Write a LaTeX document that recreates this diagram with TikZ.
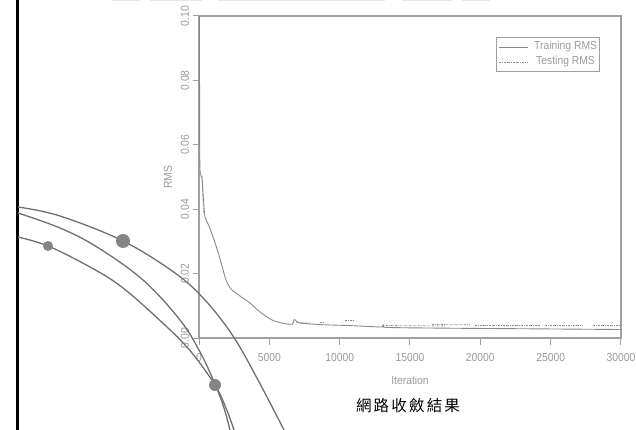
\documentclass[tikz,border=0pt]{standalone}
\usepackage{fontspec}
\setmainfont{Liberation Sans}
\newfontfamily\narrowsans[FakeStretch=0.9]{Liberation Sans}
\newfontfamily\cjk[LetterSpace=14]{Noto Sans CJK TC}
\definecolor{axgray}{HTML}{A0A0A0}
\definecolor{crvgray}{HTML}{8A8A8A}
\definecolor{arcgray}{HTML}{707070}
\definecolor{dotgray}{HTML}{858585}
\definecolor{txtgray}{HTML}{9A9A9A}
\definecolor{stripgray}{HTML}{E6E6E6}
\begin{document}
\begin{tikzpicture}[x=1pt,y=-1pt,
  axisline/.style={draw=axgray, line width=1.3pt},
  tickline/.style={draw=axgray, line width=1pt},
  ticklab/.style={text=txtgray, font=\narrowsans\fontsize{11.5}{13}\selectfont, inner sep=0pt},
  crv/.style={draw=crvgray, line width=0.9pt},
  tst/.style={draw=crvgray, line width=0.7pt, dash pattern=on 2pt off 1pt on 0.6pt off 1pt},
  arcl/.style={draw=arcgray, line width=1.3pt},
  dotc/.style={fill=dotgray}]
\useasboundingbox (0,0) rectangle (636,430);
% remnants of image above
\fill[stripgray] (112,0) rectangle (140,1);
\fill[stripgray] (150,0) rectangle (202,1);
\fill[stripgray] (218,0) rectangle (385,1);
\fill[stripgray] (402,0) rectangle (452,1);
\fill[stripgray] (462,0) rectangle (490,1);
% black bar
\fill[black] (16,0) rectangle (19,430);
% frame
\coordinate (O) at (199,338);
\coordinate (T) at (199,16);
\coordinate (TR) at (621,16);
\coordinate (BR) at (621,338);
\draw[axisline] (T) -- (O) -- (BR) -- (TR) -- (T);
% y ticks
\foreach \v/\lab in {0/0.00,1/0.02,2/0.04,3/0.06,4/0.08,5/0.10}{
  \draw[tickline] (199,{338-64.4*\v}) -- (193,{338-64.4*\v});
  \node[ticklab, rotate=90] (yl\v) at (185,{338-64.4*\v}) {\lab};
}
% x ticks
\foreach \v/\lab in {0/0,1/5000,2/10000,3/15000,4/20000,5/25000,6/30000}{
  \draw[tickline] ({199+70.33*\v},338) -- ({199+70.33*\v},345);
  \node[ticklab] (xl\v) at ({199+70.33*\v},358) {\lab};
}
\node[ticklab] (xtitle) at (410,380) {Iteration};
\node[ticklab, rotate=90] (ytitle) at (168,177) {RMS};
% training curve
\draw[crv] plot[smooth, tension=0.45] coordinates {(199.5,16) (199.6,120) (200,170) (202,178) (203.5,200) (205,217) (209,226) (213,237) (218,252) (222,266) (226,280) (231,289) (240,296) (250,303) (260,312) (273,320.5) (287,324) (292.5,324.2)};
\draw[crv] plot[smooth, tension=0.4] coordinates {(292.5,324.2) (294.5,319.5) (297,321.8) (300,323) (320,324.6) (350,325.6) (382,327) (383.5,325) (386.5,327.4) (450,328.2) (530,328.8) (621,329.5)};
% testing curve
\draw[tst] (202,176) -- (203.5,213);
\draw[tst] (296,322) -- (310,323.5);
\draw[tst] (320,322) -- (324,322);
\draw[tst] (345,320) -- (354,320);
\draw[tst] (386,325.5) -- (445,326);
\draw[tst] (432,324.5) -- (470,324.8);
\draw[tst] (475,325) -- (540,325);
\draw[tst] (545,325) -- (583,325);
\draw[tst] (593,325) -- (620,325);
% legend
\node[draw=axgray, line width=0.8pt, minimum width=103pt, minimum height=34pt, inner sep=0pt] (leg) at (547.5,54) {};
\draw[crv] (499,47) -- (528,47);
\draw[tst] (499,62) -- (528,62);
\node[ticklab, anchor=west] (legA) at (534,47) {Training RMS};
\node[ticklab, anchor=west] (legB) at (536,62) {Testing RMS};
% caption
\node[inner sep=0pt, font=\cjk\fontsize{15.5}{17}\selectfont] (cap) at (408,406) {網路收斂結果};
% arcs
\draw[arcl] plot[smooth, tension=0.6] coordinates {(18,207) (60,216) (123,241) (175,273) (205,300) (233,336) (258,380) (284,430)};
\draw[arcl] plot[smooth, tension=0.6] coordinates {(18,213) (60,228) (97,247) (143,280) (180,320) (200,352) (215,384) (224,408) (230,430)};
\draw[arcl] plot[smooth, tension=0.6] coordinates {(18,237) (48,246) (90,267) (123,288) (167,327) (192,353) (215,385) (226,408) (234,430)};
\fill[dotc] (123,241) circle (7);
\fill[dotc] (48,246) circle (5);
\fill[dotc] (215,385) circle (6);
\end{tikzpicture}
\end{document}
